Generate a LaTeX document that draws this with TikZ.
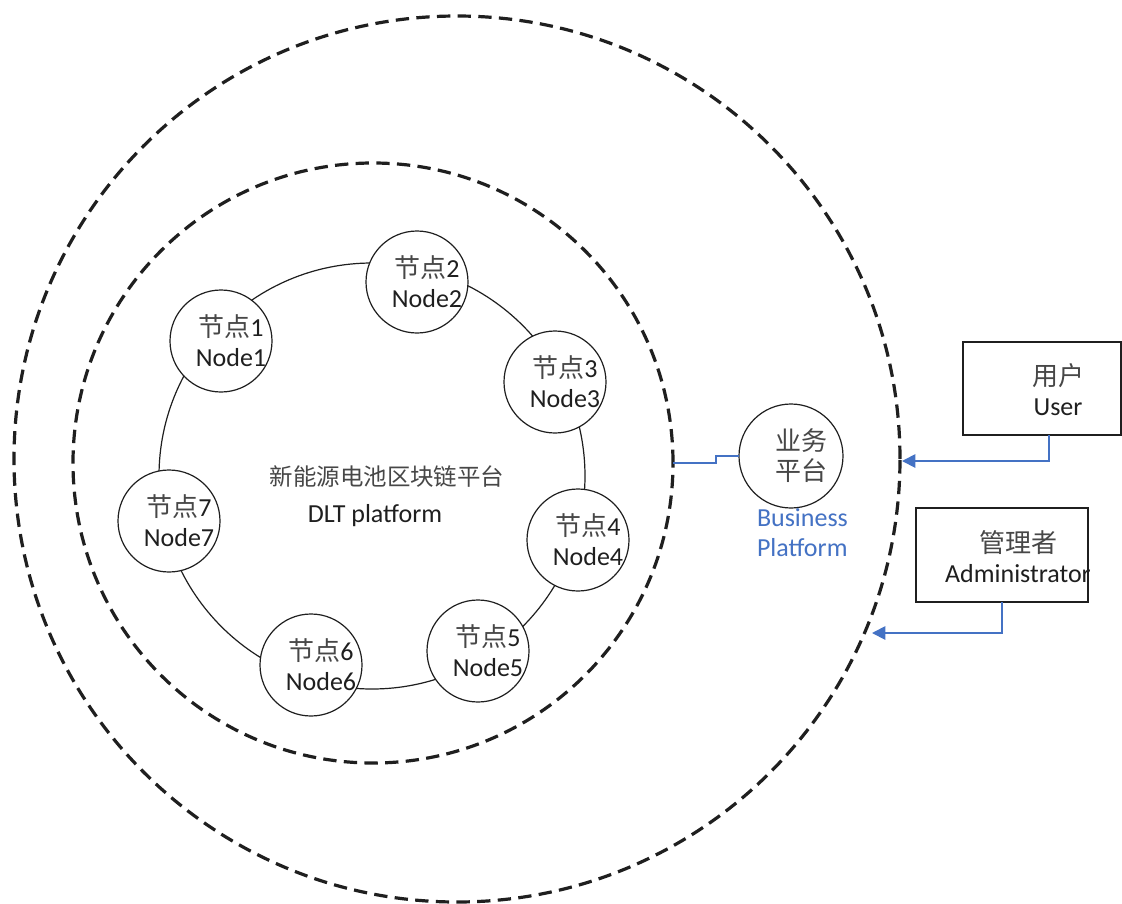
\documentclass[tikz,border=0pt]{standalone}
\usepackage{fontspec}
\setmainfont{Carlito}
\newfontfamily\cjk{Noto Sans CJK SC}
\usetikzlibrary{arrows.meta}
\definecolor{linkblue}{HTML}{4472C4}
\definecolor{cjkgray}{gray}{0.28}
\definecolor{inkblack}{gray}{0.12}
\newcommand{\zh}[1]{{\cjk\color{cjkgray}#1}}

\begin{document}
\begin{tikzpicture}[x=0.75pt,y=-0.75pt,
  every node/.style={inner sep=0pt, outer sep=0pt},
  zone/.style={circle, draw=inkblack, line width=2.4pt, dash pattern=on 10pt off 5.5pt},
  peer/.style={circle, draw=inkblack, line width=0.9pt, fill=white, minimum size=76.5pt},
  ntext/.style={align=center, font=\fontsize{19.5}{22.5}\selectfont, text=inkblack},
  boxed/.style={rectangle, draw=inkblack, line width=0.9pt},
  bline/.style={draw=linkblue, line width=1.4pt},
  barrow/.style={bline, -{Triangle[length=10pt,width=10pt]}},
]
\fill[white] (0,0) rectangle (1122,904);
\useasboundingbox (0,0) rectangle (1122,904);

% zones
\node[zone, minimum size=664.5pt] (outer) at (457,459) {};
\node[zone, minimum size=450pt] (inner) at (373,463) {};

% ledger ring
\node[circle, draw=inkblack, line width=0.9pt, minimum size=319.5pt] (ring) at (372,476) {};

% peers
\node[peer] (n1) at (221,341) {};
\node[peer] (n2) at (417,282) {};
\node[peer] (n3) at (555,382) {};
\node[peer] (n4) at (578,540) {};
\node[peer] (n5) at (478,651) {};
\node[peer] (n6) at (311,665) {};
\node[peer] (n7) at (169,521) {};

\node[ntext] (t1) at ([xshift=7.5pt]n1.center) {\zh{节点}1\\Node1};
\node[ntext] (t2) at ([xshift=7.5pt]n2.center) {\zh{节点}2\\Node2};
\node[ntext] (t3) at ([xshift=7.5pt]n3.center) {\zh{节点}3\\Node3};
\node[ntext] (t4) at ([xshift=7.5pt]n4.center) {\zh{节点}4\\Node4};
\node[ntext] (t5) at ([xshift=7.5pt]n5.center) {\zh{节点}5\\Node5};
\node[ntext] (t6) at ([xshift=7.5pt]n6.center) {\zh{节点}6\\Node6};
\node[ntext] (t7) at ([xshift=7.5pt]n7.center) {\zh{节点}7\\Node7};

% platform title
\node[font=\fontsize{17.6}{20}\selectfont] (title) at (387,477) {\zh{新能源电池区块链平台}};
\node[ntext] (dlt) at (375,516) {DLT platform};

% business platform
\node[peer, minimum size=78pt] (biz) at (791,456) {};
\node[ntext] (biztext) at ([xshift=8pt]biz.center) {\zh{业务}\\\zh{平台}};
\node[ntext, align=left, anchor=west, text=linkblue] (bizname) at (757,533) {Business\\Platform};

% user and administrator
\node[boxed, minimum width=118.5pt, minimum height=69.75pt] (user) at (1042,388.5) {};
\node[ntext] (usertext) at (1058,390) {\zh{用户}\\User};
\node[boxed, minimum width=129pt, minimum height=70.5pt] (admin) at (1002,555) {};
\node[ntext] (admintext) at (1018,557) {\zh{管理者}\\Administrator};

% links
\coordinate (utip) at (902,461);
\coordinate (atip) at (872,633);
\draw[bline] (inner.east) -- ++(43,0) |- (biz.west);
\draw[barrow] ([xshift=5.25pt]user.south) |- (utip);
\draw[barrow] (admin.south) |- (atip);
\end{tikzpicture}
\end{document}
